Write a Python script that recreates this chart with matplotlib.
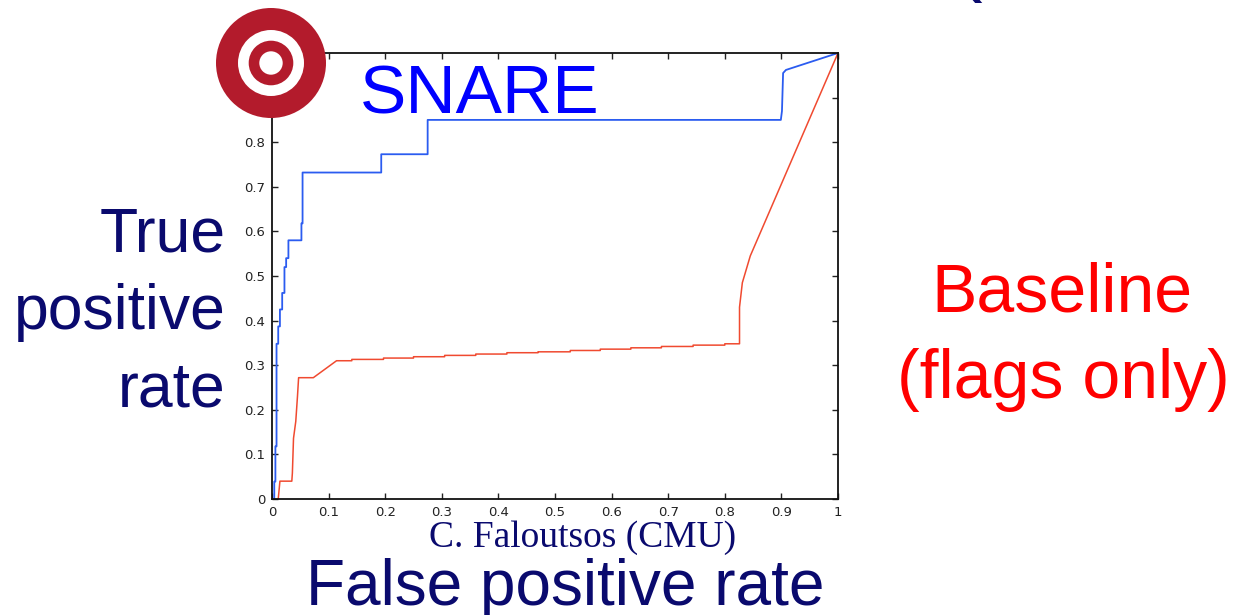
import matplotlib
matplotlib.use("Agg")
import matplotlib.pyplot as plt
from matplotlib.patches import Circle

# ROC curves: SNARE vs. baseline (flags only)
snare_fpr = [0.004, 0.004, 0.006, 0.006, 0.008, 0.008, 0.011, 0.011, 0.014, 0.014,
             0.018, 0.018, 0.022, 0.022, 0.025, 0.025, 0.029, 0.029, 0.052, 0.052,
             0.054, 0.054, 0.193, 0.193, 0.275, 0.275, 0.899, 0.901, 0.903, 0.908, 1.0]
snare_tpr = [0.0, 0.039, 0.039, 0.118, 0.118, 0.348, 0.348, 0.387, 0.387, 0.425,
             0.425, 0.462, 0.462, 0.52, 0.52, 0.54, 0.54, 0.58, 0.58, 0.618,
             0.618, 0.732, 0.732, 0.773, 0.773, 0.85, 0.85, 0.87, 0.955, 0.962, 1.0]

base_fpr = [0.011, 0.014, 0.035, 0.036, 0.038, 0.040, 0.042, 0.045, 0.047, 0.073,
            0.114, 0.141, 0.141, 0.197, 0.197, 0.25, 0.25, 0.305, 0.305, 0.36,
            0.36, 0.415, 0.415, 0.47, 0.47, 0.527, 0.527, 0.58, 0.58, 0.634,
            0.634, 0.688, 0.688, 0.744, 0.744, 0.8, 0.8, 0.826, 0.826, 0.831,
            0.845, 1.0]
base_tpr = [0.0, 0.04, 0.04, 0.058, 0.136, 0.155, 0.174, 0.23, 0.272, 0.272,
            0.31, 0.31, 0.313, 0.313, 0.316, 0.316, 0.319, 0.319, 0.322, 0.322,
            0.325, 0.325, 0.328, 0.328, 0.33, 0.33, 0.333, 0.333, 0.336, 0.336,
            0.339, 0.339, 0.342, 0.342, 0.345, 0.345, 0.348, 0.348, 0.43, 0.485,
            0.545, 1.0]

tick_values = [0, 0.1, 0.2, 0.3, 0.4, 0.5, 0.6, 0.7, 0.8, 0.9, 1]
tick_labels = ["0", "0.1", "0.2", "0.3", "0.4", "0.5", "0.6", "0.7", "0.8", "0.9", "1"]

W, H = 1234, 615
fig = plt.figure(figsize=(W / 100, H / 100), dpi=100)
fig.patch.set_facecolor("white")

def fx(px):
    return px / W

def fy(py):
    return 1 - py / H

ax = fig.add_axes([fx(272), fy(499), (838 - 272) / W, (499 - 53) / H])
ax.plot(snare_fpr, snare_tpr, color="#2b5cf0", lw=1.3)
ax.plot(base_fpr, base_tpr, color="#f04a30", lw=1.1)
ax.set_xlim(0, 1)
ax.set_ylim(0, 1)
ax.set_xticks(tick_values)
ax.set_xticklabels(tick_labels)
ax.set_yticks(tick_values)
ax.set_yticklabels(tick_labels)
ax.tick_params(direction="in", top=True, right=True, length=4, width=1.0,
               labelsize=9.5, labelcolor="#222222", color="#222222", pad=5)
for s in ax.spines.values():
    s.set_linewidth(1.3)
    s.set_color("#111111")

navy = "#0a0a6e"
sans = ["Liberation Sans", "DejaVu Sans"]
serif = ["Liberation Serif", "DejaVu Serif"]

fig.text(fx(226), fy(235), "True", ha="right", va="center", fontsize=45,
         color=navy, family=sans)
fig.text(fx(226), fy(312), "positive", ha="right", va="center", fontsize=45,
         color=navy, family=sans)
fig.text(fx(226), fy(390), "rate", ha="right", va="center", fontsize=45,
         color=navy, family=sans)

fig.text(fx(565), fy(588), "False positive rate", ha="center", va="center",
         fontsize=46, color=navy, family=sans)
fig.text(fx(583), fy(538), "C. Faloutsos (CMU)", ha="center", va="center",
         fontsize=27, color=navy, family=serif)

fig.text(fx(480), fy(95), "SNARE", ha="center", va="center", fontsize=50,
         color="#0000ff", family=sans)
fig.text(fx(1062), fy(294), "Baseline", ha="center", va="center", fontsize=49,
         color="#ff0000", family=sans)
fig.text(fx(1063), fy(380), "(flags only)", ha="center", va="center", fontsize=49,
         color="#ff0000", family=sans)

# clipped heading at the top edge
fig.text(fx(955), fy(3), "(", ha="left", va="bottom", fontsize=60,
         color=navy, family=sans)

# target logo
lax = fig.add_axes([0, 0, 1, 1], zorder=10)
lax.set_xlim(0, W)
lax.set_ylim(H, 0)
lax.axis("off")
lax.patch.set_alpha(0)
cx, cy = 271, 63
for r, c in [(55, "#b31b2c"), (33, "white"), (22.3, "#b31b2c"), (11.7, "white")]:
    lax.add_patch(Circle((cx, cy), r, facecolor=c, edgecolor="none"))

fig.savefig("out.png", dpi=100)
